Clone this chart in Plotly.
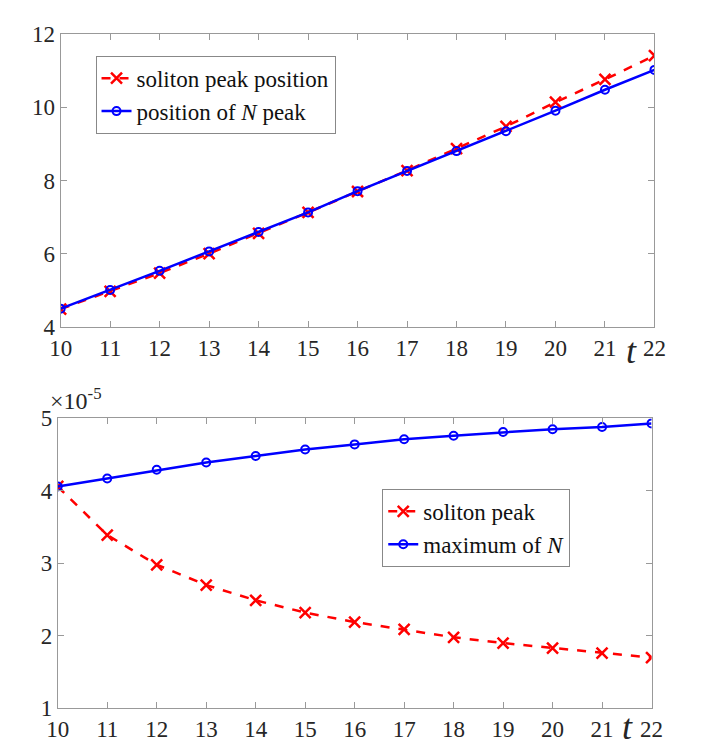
import plotly.graph_objects as go

t = [10, 11, 12, 13, 14, 15, 16, 17, 18, 19, 20, 21, 22]

# top panel: positions
soliton_pos = [4.50, 4.98, 5.48, 6.01, 6.56, 7.13, 7.70, 8.27, 8.87, 9.47, 10.13, 10.75, 11.40]
n_peak_pos = [4.51, 5.02, 5.54, 6.07, 6.60, 7.13, 7.71, 8.26, 8.80, 9.34, 9.90, 10.47, 11.01]

# bottom panel: amplitudes (units of 1e-5)
soliton_peak = [4.06, 3.39, 2.98, 2.70, 2.49, 2.32, 2.19, 2.09, 1.98, 1.90, 1.83, 1.76, 1.70]
max_n = [4.06, 4.17, 4.29, 4.39, 4.48, 4.57, 4.64, 4.71, 4.76, 4.81, 4.85, 4.88, 4.93]

x_ticks = list(range(10, 23))
top_y_ticks = [4, 6, 8, 10, 12]
bot_y_ticks = [1, 2, 3, 4, 5]

W, H = 702, 752
FONT = "Liberation Serif, Times New Roman, Times, serif"
RED = "#ff0000"
BLUE = "#0000ff"
AX = "#999999"

fig = go.Figure()

fig.add_trace(go.Scatter(x=t, y=soliton_pos, mode="lines+markers", name="soliton peak position",
                         line=dict(color=RED, width=2.5, dash="dash"),
                         marker=dict(symbol="x-thin", size=11, line=dict(color=RED, width=2.5)),
                         xaxis="x", yaxis="y", legend="legend"))
fig.add_trace(go.Scatter(x=t, y=n_peak_pos, mode="lines+markers", name="position of <i>N</i> peak",
                         line=dict(color=BLUE, width=2.5),
                         marker=dict(symbol="circle-open", size=8, color=BLUE, line=dict(color=BLUE, width=2)),
                         xaxis="x", yaxis="y", legend="legend"))

fig.add_trace(go.Scatter(x=t, y=soliton_peak, mode="lines+markers", name="soliton peak",
                         line=dict(color=RED, width=2.5, dash="dash"),
                         marker=dict(symbol="x-thin", size=11, line=dict(color=RED, width=2.5)),
                         xaxis="x2", yaxis="y2", legend="legend2"))
fig.add_trace(go.Scatter(x=t, y=max_n, mode="lines+markers", name="maximum of <i>N</i>",
                         line=dict(color=BLUE, width=2.5),
                         marker=dict(symbol="circle-open", size=8, color=BLUE, line=dict(color=BLUE, width=2)),
                         xaxis="x2", yaxis="y2", legend="legend2"))

def px_x(p):
    return p / W

def px_y(p):
    return 1 - p / H

axis_common = dict(showgrid=False, zeroline=False, showline=True, linecolor=AX, linewidth=1,
                   mirror="ticks", ticks="inside", ticklen=6, tickcolor=AX,
                   tickfont=dict(family=FONT, size=23, color="#262626"))

fig.update_layout(
    width=W, height=H,
    margin=dict(l=0, r=0, t=0, b=0),
    paper_bgcolor="white", plot_bgcolor="white",
    showlegend=True,
    xaxis=dict(domain=[px_x(43), px_x(656)], range=[10, 22], tickvals=x_ticks, anchor="y", **axis_common),
    yaxis=dict(domain=[px_y(318), px_y(14)], range=[4, 12], tickvals=top_y_ticks, anchor="x", **axis_common),
    xaxis2=dict(domain=[px_x(40), px_x(653)], range=[10, 22], tickvals=x_ticks, anchor="y2", **axis_common),
    yaxis2=dict(domain=[px_y(712), px_y(412)], range=[1, 5], tickvals=bot_y_ticks, anchor="x2", **axis_common),
    legend=dict(x=px_x(79), y=px_y(37), xanchor="left", yanchor="top",
                bgcolor="white", bordercolor="#888888", borderwidth=1,
                font=dict(family=FONT, size=23, color="#111111"), itemwidth=30, tracegroupgap=0),
    legend2=dict(x=px_x(375), y=px_y(485), xanchor="left", yanchor="top",
                 bgcolor="white", bordercolor="#888888", borderwidth=1,
                 font=dict(family=FONT, size=23, color="#111111"), itemwidth=30, tracegroupgap=0),
    annotations=[
        dict(text="<i>t</i>", x=px_x(632), y=px_y(320), xref="paper", yref="paper",
             xanchor="center", yanchor="top",
             showarrow=False, font=dict(family=FONT, size=36, color="#262626")),
        dict(text="<i>t</i>", x=px_x(628), y=px_y(709), xref="paper", yref="paper",
             xanchor="center", yanchor="top",
             showarrow=False, font=dict(family=FONT, size=36, color="#262626")),
        dict(text="×10<sup>-5</sup>", x=px_x(30), y=px_y(410), xref="paper", yref="paper",
             xanchor="left", yanchor="bottom", showarrow=False,
             font=dict(family=FONT, size=24, color="#262626")),
    ],
)

fig.write_html("out.html")
